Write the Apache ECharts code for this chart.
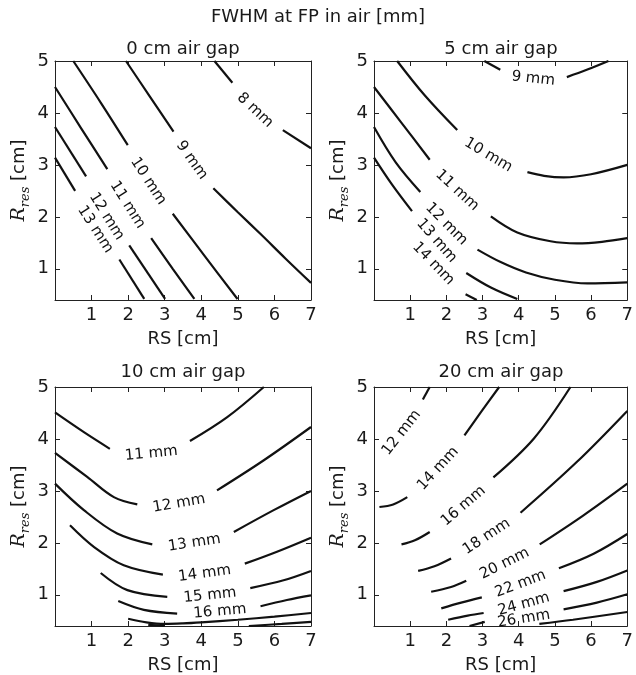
<!DOCTYPE html>
<html><head><meta charset="utf-8">
<script src="https://cdn.jsdelivr.net/npm/echarts@6/dist/echarts.min.js"></script>
<style>html,body{margin:0;padding:0;background:#fff}#c{width:636px;height:675px}</style>
</head><body><div id="c"></div>
<script>
const mainTitle = 'FWHM at FP in air [mm]';
const panelTitles = ['0 cm air gap', '5 cm air gap', '10 cm air gap', '20 cm air gap'];
const xTicks = [1, 2, 3, 4, 5, 6, 7];
const yTicks = [1, 2, 3, 4, 5];
const xRange = [0, 7];
const yRange = [0.4, 5];

// contour lines: [level, segments]  (segments split where the label sits)
const gap0Contours = [
  ['8 mm',  [[[4.36,5],[4.85,4.58]], [[6.23,3.67],[7,3.32]]]],
  ['9 mm',  [[[1.94,5],[2.59,4.32],[3.24,3.64]], [[4.33,2.55],[5.0,2.09],[5.65,1.65],[6.3,1.2],[7,0.73]]]],
  ['10 mm', [[[0.50,5],[1.25,4.2],[1.99,3.38]], [[3.22,2.06],[4.1,1.24],[4.99,0.42]]]],
  ['11 mm', [[[0,4.50],[0.72,3.7],[1.43,2.92]], [[2.63,1.59],[3.22,1.0],[3.81,0.42]]]],
  ['12 mm', [[[0,3.73],[0.85,2.78]], [[2.03,1.45],[3.01,0.42]]]],
  ['13 mm', [[[0,3.14],[0.55,2.50]], [[1.76,1.18],[2.44,0.42]]]]
];
const gap5Contours = [
  ['9 mm',  [[[3.05,5],[3.49,4.83]], [[5.33,4.69],[5.88,4.83],[6.48,5]]]],
  ['10 mm', [[[0.64,5],[1.40,4.34],[2.30,3.67]], [[4.24,2.86],[4.7,2.79],[5.24,2.76],[6.0,2.82],[7.0,3.0]]]],
  ['11 mm', [[[0,4.5],[0.75,3.82],[1.54,3.10]], [[3.23,2.01],[3.96,1.70],[4.88,1.53],[5.61,1.49],[6.3,1.52],[7.0,1.59]]]],
  ['12 mm', [[[0,3.73],[0.6,3.05],[1.28,2.48]], [[2.86,1.37],[3.5,1.13],[4.2,0.93],[5.0,0.79],[5.9,0.72],[7.0,0.74]]]],
  ['13 mm', [[[0,3.14],[0.5,2.62],[1.05,2.11]], [[2.55,0.92],[3.23,0.64],[3.96,0.42]]]],
  ['14 mm', [[[2.53,0.51],[2.84,0.40]]]]
];
const gap10Contours = [
  ['11 mm', [[[0,4.51],[0.79,4.13],[1.50,3.81]], [[3.69,3.96],[4.71,4.42],[5.71,5.0]]]],
  ['12 mm', [[[0,3.73],[0.88,3.27],[1.61,2.88],[2.25,2.74]], [[4.43,3.01],[5.71,3.59],[7.0,4.23]]]],
  ['13 mm', [[[0,3.14],[0.79,2.63],[1.70,2.18],[2.66,1.97]], [[4.89,2.21],[5.98,2.63],[7.0,3.0]]]],
  ['14 mm', [[[0.41,2.34],[1.07,1.92],[1.88,1.57],[2.95,1.39]], [[5.19,1.60],[6.07,1.83],[7.0,2.10]]]],
  ['15 mm', [[[1.25,1.42],[1.98,1.09],[3.07,0.96]], [[5.34,1.13],[6.25,1.28],[7.0,1.46]]]],
  ['16 mm', [[[1.73,0.88],[2.43,0.71],[3.34,0.64]], [[5.62,0.78],[6.34,0.90],[7.0,0.99]]]],
  ['17 mm', [[[2.0,0.54],[2.5,0.47],[3.0,0.44],[3.5,0.45],[4.0,0.47],[5.0,0.52],[6.0,0.58],[7.0,0.65]]]],
  ['18 mm', [[[2.55,0.42],[3.0,0.405]], [[5.3,0.40],[6.2,0.44],[7.0,0.48]]]]
];
const gap20Contours = [
  ['12 mm', [[[1.35,4.76],[1.54,5.0]]]],
  ['14 mm', [[[0.15,2.69],[0.53,2.74],[0.92,2.88]], [[2.50,4.07],[2.96,4.52],[3.46,5.0]]]],
  ['16 mm', [[[0.76,1.97],[1.13,2.05],[1.54,2.21]], [[3.30,3.26],[4.42,4.01],[5.43,5.0]]]],
  ['18 mm', [[[1.22,1.46],[1.67,1.55],[2.13,1.70]], [[4.05,2.58],[5.61,3.56],[7.0,4.54]]]],
  ['20 mm', [[[1.58,1.06],[2.13,1.15],[2.55,1.27]], [[4.58,1.97],[5.79,2.53],[7.0,3.14]]]],
  ['22 mm', [[[1.86,0.74],[2.41,0.85],[2.98,0.95]], [[5.11,1.51],[6.07,1.79],[7.0,2.17]]]],
  ['24 mm', [[[2.05,0.52],[2.59,0.60],[3.03,0.65]], [[5.24,1.07],[6.16,1.25],[7.0,1.47]]]],
  ['26 mm', [[[2.64,0.40],[3.06,0.48]], [[5.24,0.72],[6.16,0.85],[7.0,1.01]]]],
  ['28 mm', [[[4.57,0.44],[5.5,0.52],[7.0,0.67]]]]
];

// contour label anchors: [text, x, y]
const gap0Labels = [['8 mm',5.47,4.05],['9 mm',3.74,3.09],['10 mm',2.55,2.69],['11 mm',1.98,2.23],['12 mm',1.41,2.01],['13 mm',1.10,1.76]];
const gap5Labels = [['9 mm',4.40,4.66],['10 mm',3.16,3.19],['11 mm',2.30,2.51],['12 mm',2.00,1.86],['13 mm',1.73,1.54],['14 mm',1.64,1.10]];
const gap10Labels = [['11 mm',2.63,3.72],['12 mm',3.39,2.76],['13 mm',3.81,2.00],['14 mm',4.09,1.41],['15 mm',4.24,0.99],['16 mm',4.51,0.68]];
const gap20Labels = [['12 mm',0.76,4.12],['14 mm',1.77,3.43],['16 mm',2.47,2.71],['18 mm',3.11,2.12],['20 mm',3.61,1.60],['22 mm',4.05,1.21],['24 mm',4.14,0.82],['26 mm',4.14,0.54]];

const allContours = [gap0Contours, gap5Contours, gap10Contours, gap20Contours];
const allLabels = [gap0Labels, gap5Labels, gap10Labels, gap20Labels];

// ---------- layout / style ----------
const FONT = 'DejaVu Sans';
const TXT = '#1a1a1a';
const grids = [
  {left: 55, top: 61, width: 256, height: 239},
  {left: 374, top: 61, width: 255, height: 239},
  {left: 55, top: 387, width: 256, height: 239},
  {left: 374, top: 387, width: 255, height: 239}
];
const titlePos = [[183, 49], [501, 49], [183, 372], [501, 372]];
const angleOverride = {'1|14 mm': -46, '3|12 mm': 52};

const chart = echarts.init(document.getElementById('c'), null, {renderer: 'canvas'});

const xAxes = [], yAxes = [];
grids.forEach((g, i) => {
  const common = {
    type: 'value', gridIndex: i, min: xRange[0], max: xRange[1], interval: 1,
    axisLine: {show: true, onZero: false, lineStyle: {color: '#222', width: 1}},
    axisTick: {show: true, inside: true, length: 5, customValues: xTicks, lineStyle: {color: '#222'}},
    splitLine: {show: false}
  };
  xAxes.push(Object.assign({}, common, {
    position: 'bottom', name: 'RS [cm]', nameLocation: 'middle', nameGap: 30,
    nameTextStyle: {fontFamily: FONT, fontSize: 18, color: TXT},
    axisLabel: {show: true, customValues: xTicks, fontFamily: FONT, fontSize: 18, color: TXT, margin: 6}
  }));
  xAxes.push(Object.assign({}, common, {position: 'top', axisLabel: {show: false}}));
  const ycommon = {
    type: 'value', gridIndex: i, min: yRange[0], max: yRange[1],
    axisLine: {show: true, onZero: false, lineStyle: {color: '#222', width: 1}},
    axisTick: {show: true, inside: true, length: 5, customValues: yTicks, lineStyle: {color: '#222'}},
    splitLine: {show: false}
  };
  yAxes.push(Object.assign({}, ycommon, {
    position: 'left', name: '{i|R}{s|res}{n| [cm]}', nameLocation: 'middle', nameGap: 23,
    nameTextStyle: {
      fontFamily: FONT, fontSize: 18, color: TXT,
      rich: {
        i: {fontFamily: 'DejaVu Serif', fontStyle: 'italic', fontSize: 19, color: TXT, lineHeight: 26, verticalAlign: 'middle'},
        s: {fontFamily: 'DejaVu Serif', fontStyle: 'italic', fontSize: 13, color: TXT, lineHeight: 26, verticalAlign: 'bottom'},
        n: {fontFamily: FONT, fontSize: 18, color: TXT, lineHeight: 26, verticalAlign: 'middle'}
      }
    },
    axisLabel: {show: true, customValues: yTicks, fontFamily: FONT, fontSize: 18, color: TXT, margin: 6}
  }));
  yAxes.push(Object.assign({}, ycommon, {position: 'right', axisLabel: {show: false}}));
});

const lineSeries = [];
allContours.forEach((contours, i) => {
  contours.forEach(([level, segs]) => {
    segs.forEach((seg, k) => {
      lineSeries.push({
        type: 'line', name: level + ' ' + k, xAxisIndex: 2 * i, yAxisIndex: 2 * i,
        data: seg, showSymbol: false, symbol: 'none', smooth: 0.35, silent: true,
        lineStyle: {color: '#111', width: 2.2}, clip: true, z: 3
      });
    });
  });
});

const graphics = [{
  type: 'text', x: 318, y: 17,
  style: {text: mainTitle, fontFamily: FONT, fontSize: 18, fill: TXT, align: 'center', verticalAlign: 'middle'}
}];
panelTitles.forEach((t, i) => {
  graphics.push({type: 'text', x: titlePos[i][0], y: titlePos[i][1],
    style: {text: t, fontFamily: FONT, fontSize: 18, fill: TXT, align: 'center', verticalAlign: 'middle'}});
});

chart.setOption({
  animation: false,
  backgroundColor: '#fff',
  grid: grids,
  xAxis: xAxes,
  yAxis: yAxes,
  graphic: graphics,
  series: lineSeries
});

// labels: angles from the label gap, measured in pixels
const labelSeries = allLabels.map((labels, i) => {
  const contours = allContours[i];
  const data = labels.map(([text, x, y]) => {
    let ang = 0;
    const key = i + '|' + text;
    if (angleOverride[key] !== undefined) ang = angleOverride[key];
    else {
      const c = contours.find(cc => cc[0] === text);
      const segs = c[1];
      const a = segs[0][segs[0].length - 1], b = segs[1][0];
      const pa = chart.convertToPixel({gridIndex: i}, a);
      const pb = chart.convertToPixel({gridIndex: i}, b);
      let dx = pb[0] - pa[0], dy = pb[1] - pa[1];
      if (dx < 0) { dx = -dx; dy = -dy; }
      ang = Math.atan2(-dy, dx) * 180 / Math.PI;
    }
    return {name: text, value: [x, y], label: {rotate: ang}};
  });
  return {
    type: 'scatter', xAxisIndex: 2 * i, yAxisIndex: 2 * i, data: data,
    symbolSize: 0, itemStyle: {color: 'transparent', opacity: 1}, silent: true, z: 5,
    label: {show: true, position: [0, 0], align: 'center', verticalAlign: 'middle',
      formatter: '{b}', fontFamily: FONT, fontSize: 15, color: '#111', opacity: 1, textBorderWidth: 0}
  };
});

chart.setOption({series: lineSeries.concat(labelSeries)});
</script>
</body></html>
